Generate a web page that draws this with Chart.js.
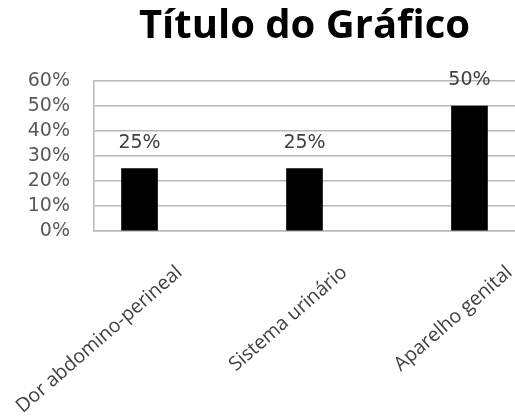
<!DOCTYPE html>
<html>
<head>
<meta charset="utf-8">
<script src="https://cdn.jsdelivr.net/npm/chart.js@4"></script>
<style>
  html, body { margin: 0; padding: 0; background: #fff; }
  #wrap { width: 515px; height: 417px; }
</style>
</head>
<body>
<div id="wrap"><canvas id="chart"></canvas></div>
<script>
const titleText = 'Título do Gráfico';
const categories = ['Dor abdomino-perineal', 'Sistema urinário', 'Aparelho genital'];
const values = [25, 25, 50];
const yTicks = [0, 10, 20, 30, 40, 50, 60];

// draws the "25%" labels over each bar
const barLabels = {
    id: 'barLabels',
    afterDatasetsDraw(chart) {
        const ctx = chart.ctx;
        const meta = chart.getDatasetMeta(0);
        ctx.save();
        ctx.font = '19px "DejaVu Sans"';
        ctx.fillStyle = '#404040';
        ctx.textAlign = 'center';
        ctx.textBaseline = 'bottom';
        meta.data.forEach((bar, i) => {
            ctx.fillText(values[i] + '%', bar.x, bar.y - 16);
        });
        ctx.restore();
    }
};

const ctx = document.getElementById('chart').getContext('2d');
new Chart(ctx, {
    type: 'bar',
    data: {
        datasets: [{
            data: values.map((v, i) => ({ x: i, y: v })),
            backgroundColor: '#000000',
            borderWidth: 0,
            barThickness: 36
        }]
    },
    options: {
        responsive: true,
        maintainAspectRatio: false,
        animation: false,
        layout: { padding: 0 },
        plugins: {
            legend: { display: false },
            tooltip: { enabled: false },
            title: {
                display: true,
                text: titleText,
                fullSize: false,
                color: '#000000',
                font: { family: '"Open Sans"', size: 40, weight: 'bold', lineHeight: 1.2 },
                padding: { top: 3, bottom: 30 }
            }
        },
        scales: {
            x: {
                type: 'linear',
                offset: false,
                min: -0.276,
                max: 2.276,
                afterBuildTicks: scale => {
                    scale.ticks = categories.map((c, i) => ({ value: i }));
                },
                afterFit: scale => {
                    scale.height = 186;
                    scale.paddingLeft = 0;
                    scale.paddingRight = 0;
                },
                grid: { display: false },
                border: { display: true, color: '#b8b8b8', width: 1.5 },
                ticks: {
                    autoSkip: false,
                    minRotation: 41,
                    maxRotation: 41,
                    labelOffset: 40,
                    padding: 22,
                    color: '#404040',
                    font: { family: '"Open Sans"', size: 19.5 },
                    callback: v => categories[v]
                }
            },
            y: {
                min: 0,
                max: 60,
                afterBuildTicks: scale => {
                    scale.ticks = yTicks.map(v => ({ value: v }));
                },
                afterFit: scale => { scale.width = 94; },
                grid: { color: '#b8b8b8', lineWidth: 1.5, drawTicks: false },
                border: { display: true, color: '#b8b8b8', width: 1.5 },
                ticks: {
                    autoSkip: false,
                    padding: 24,
                    color: '#595959',
                    font: { family: '"DejaVu Sans"', size: 19 },
                    callback: v => v + '%'
                }
            }
        }
    },
    plugins: [barLabels]
});
</script>
</body>
</html>
